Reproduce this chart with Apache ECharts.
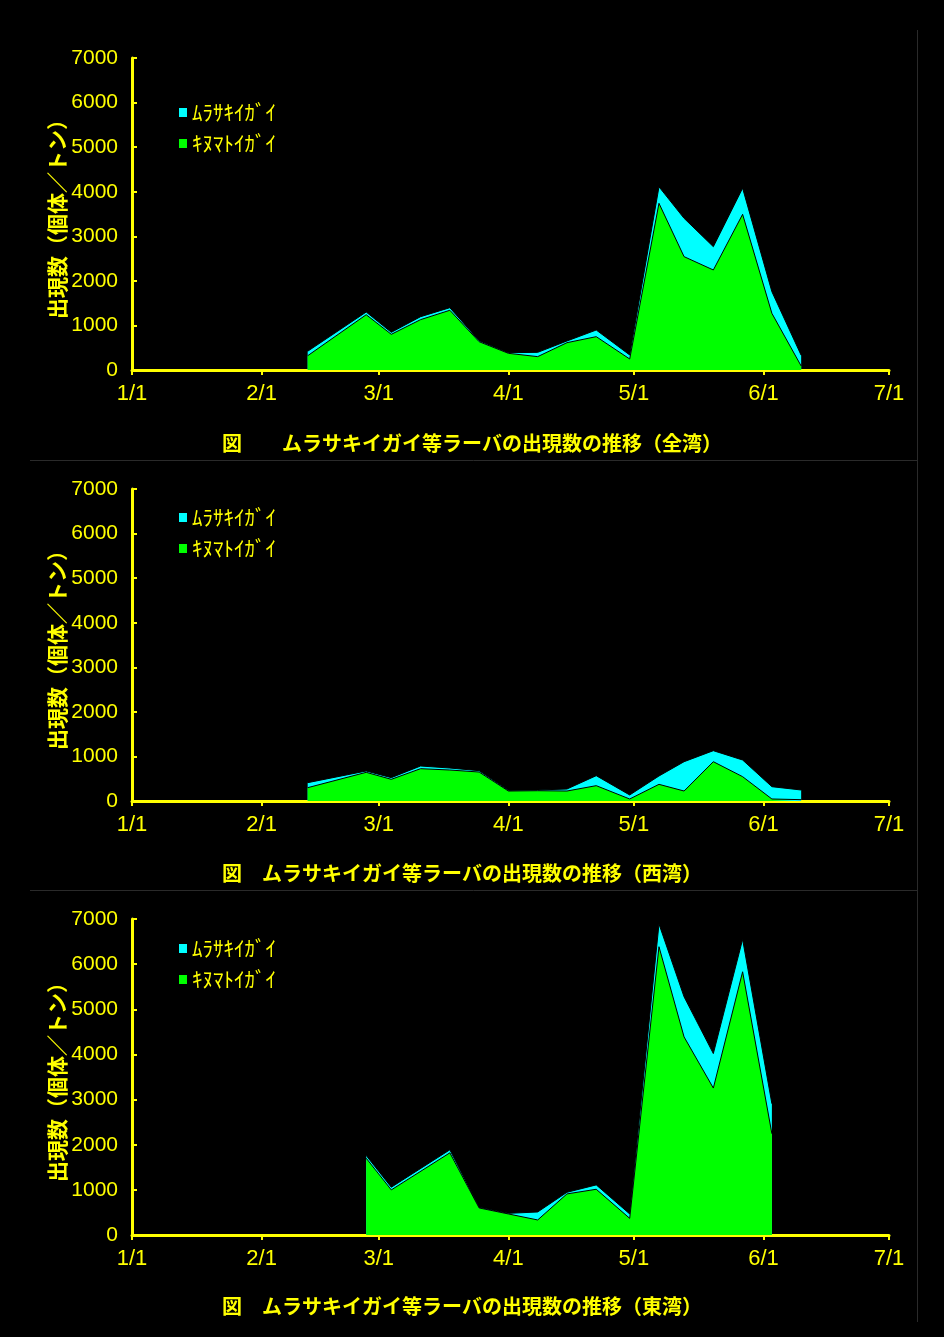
<!doctype html>
<html>
<head>
<meta charset="utf-8">
<title>ムラサキイガイ等ラーバの出現数の推移</title>
<style>
    html, body { margin: 0; padding: 0; background: #000; }
    #chart { width: 944px; height: 1337px; }
</style>
</head>
<body>
<div id="chart"></div>
<script src="https://cdn.jsdelivr.net/npm/echarts@6/dist/echarts.min.js"></script>
<script>
// 月初の通日（1/1 = 0）と目盛ラベル
var monthStarts = [0, 31, 59, 90, 120, 151, 181];
var tickLabels = ['1/1', '2/1', '3/1', '4/1', '5/1', '6/1', '7/1'];

var seriesNames = ['ﾑﾗｻｷｲｶﾞｲ', 'ｷﾇﾏﾄｲｶﾞｲ'];

// 全湾・西湾の調査日
var datesWest = ['2/12', '2/26', '3/4', '3/11', '3/18', '3/25', '4/1', '4/8', '4/15', '4/22', '4/30',
                 '5/7', '5/13', '5/20', '5/27', '6/3', '6/10'];
// 東湾の調査日
var datesEast = ['2/26', '3/4', '3/18', '3/25', '4/1', '4/8', '4/15', '4/22', '4/30',
                 '5/7', '5/13', '5/20', '5/27', '6/3'];

// 全湾
var zenKinu = [320, 1240, 800, 1130, 1340, 635, 374, 300, 613, 748, 247, 3740, 2543, 2244, 3493, 1271, 90];
var zenMura = [100, 60, 45, 66, 58, 23, 15, 96, 38, 149, 90, 370, 860, 523, 587, 486, 240];
// 西湾
var seiKinu = [299, 643, 486, 725, 695, 650, 224, 231, 224, 344, 45, 374, 224, 882, 546, 45, 30];
var seiMura = [112, 30, 38, 60, 45, 30, 15, 16, 45, 224, 90, 187, 658, 247, 374, 276, 217];
// 東湾
var touKinu = [1701, 999, 1820, 599, 466, 333, 910, 1013, 369, 6386, 4388, 3255, 5831, 2242];
var touMura = [60, 59, 67, 14, 14, 177, 36, 97, 97, 504, 888, 764, 719, 666];

var titles = [
    '図　　ムラサキイガイ等ラーバの出現数の推移（全湾）',
    '図　ムラサキイガイ等ラーバの出現数の推移（西湾）',
    '図　ムラサキイガイ等ラーバの出現数の推移（東湾）'
];

function dayOf(md) {
    var p = md.split('/');
    return monthStarts[+p[0] - 1] + (+p[1]) - 1;
}
function pairs(dates, vals) {
    return dates.map(function (d, i) { return [dayOf(d), vals[i]]; });
}
// 積み上げ：ムラサキイガイはキヌマトイガイの上に重ねる
function sums(a, b) {
    return a.map(function (v, i) { return v + b[i]; });
}

var YELLOW = '#ffff00';
var numFont = 'Liberation Sans';
var panels = [
    { top: 58, height: 312, titleY: 433, legendY: 102, dates: datesWest, kinu: zenKinu, mura: zenMura },
    { top: 489, height: 312, titleY: 863, legendY: 507, dates: datesWest, kinu: seiKinu, mura: seiMura },
    { top: 919, height: 316, titleY: 1296, legendY: 938, dates: datesEast, kinu: touKinu, mura: touMura }
];

var option = {
    backgroundColor: '#000',
    animation: false,
    title: [], legend: [], grid: [], xAxis: [], yAxis: [], series: [],
    graphic: [
        { type: 'line', shape: { x1: 30, y1: 460.5, x2: 917, y2: 460.5 }, style: { stroke: '#2a2a2a', lineWidth: 1 } },
        { type: 'line', shape: { x1: 30, y1: 890.5, x2: 917, y2: 890.5 }, style: { stroke: '#2a2a2a', lineWidth: 1 } },
        { type: 'line', shape: { x1: 917.5, y1: 30, x2: 917.5, y2: 1322 }, style: { stroke: '#2a2a2a', lineWidth: 1 } }
    ]
};

panels.forEach(function (p, i) {
    option.title.push({
        text: titles[i], left: 222, top: p.titleY, padding: 0,
        textStyle: { color: YELLOW, fontSize: 20, fontWeight: 'bold', fontFamily: 'Noto Sans CJK JP' }
    });
    option.legend.push({
        orient: 'vertical', left: 179, top: p.legendY, padding: 0, itemGap: 10,
        icon: 'rect', itemWidth: 8, itemHeight: 9,
        data: [
            { name: seriesNames[0], itemStyle: { color: '#00ffff', borderWidth: 0 } },
            { name: seriesNames[1], itemStyle: { color: '#00ff00', borderWidth: 0 } }
        ],
        textStyle: { color: YELLOW, fontSize: 21, fontFamily: 'Noto Sans CJK JP' }
    });
    option.grid.push({ left: 132, top: p.top, width: 757, height: p.height });
    option.xAxis.push({
        type: 'value', gridIndex: i, min: 0, max: 181,
        splitLine: { show: false },
        axisLine: { lineStyle: { color: YELLOW, width: 3 } },
        axisTick: { customValues: monthStarts, length: 5, lineStyle: { color: YELLOW, width: 2 } },
        axisLabel: {
            customValues: monthStarts, margin: 13, color: YELLOW, fontSize: 22,
            fontFamily: numFont,
            formatter: function (v) { return tickLabels[monthStarts.indexOf(v)]; }
        }
    });
    option.yAxis.push({
        type: 'value', gridIndex: i, min: 0, max: 7000, interval: 1000,
        name: '出現数（個体／トン）', nameLocation: 'middle', nameGap: 64, nameRotate: 90,
        nameMoveOverlap: false,
        nameTextStyle: { color: YELLOW, fontSize: 21, fontWeight: 'bold', fontFamily: 'Noto Sans CJK JP' },
        splitLine: { show: false },
        axisLine: { show: true, lineStyle: { color: YELLOW, width: 3 } },
        axisTick: { show: true, inside: true, length: 5, lineStyle: { color: YELLOW, width: 2 } },
        axisLabel: {
            margin: 14, color: YELLOW, fontSize: 21, fontFamily: numFont,
            formatter: function (v) { return String(v); }
        }
    });
    // 合計（上側の水色）を先に、キヌマトイガイ（緑）を上に描く
    option.series.push({
        name: seriesNames[0], type: 'line', xAxisIndex: i, yAxisIndex: i, z: 2,
        symbol: 'none', data: pairs(p.dates, sums(p.kinu, p.mura)),
        lineStyle: { color: '#000', width: 1 },
        areaStyle: { color: '#00ffff', opacity: 1 }
    });
    option.series.push({
        name: seriesNames[1], type: 'line', xAxisIndex: i, yAxisIndex: i, z: 3,
        symbol: 'none', data: pairs(p.dates, p.kinu),
        lineStyle: { color: '#000', width: 1 },
        areaStyle: { color: '#00ff00', opacity: 1 }
    });
});

var chart = echarts.init(document.getElementById('chart'));
chart.setOption(option);
</script>
</body>
</html>
